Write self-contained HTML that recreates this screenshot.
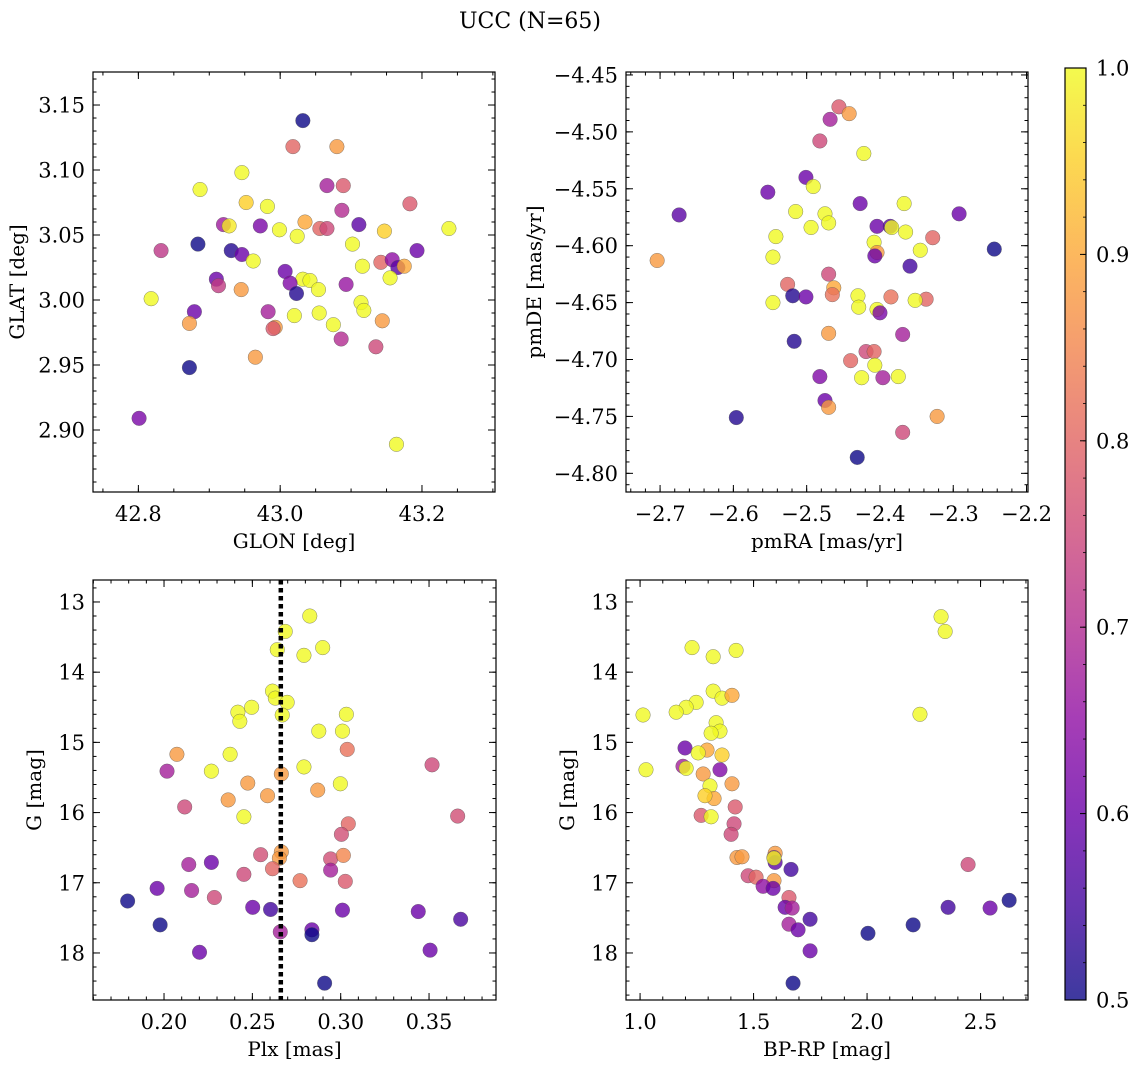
<!DOCTYPE html>
<html><head><meta charset="utf-8"><style>
html,body{margin:0;padding:0;background:#fff;}
svg{display:block;font-family:"DejaVu Serif","Liberation Serif",serif;}
</style></head><body>
<svg id="fig" width="1136" height="1068" viewBox="0 0 1136 1068" xmlns="http://www.w3.org/2000/svg">
<text x="530" y="28" text-anchor="middle" font-size="22">UCC (N=65)</text>
</svg>
<script>
// ---- Panel 1: GLON vs GLAT ----
const p1Glon=[43.032,43.018,43.080,42.946,42.887,43.066,43.089,43.183,42.952,42.982,43.087,43.035,42.920,42.928,42.972,43.111,42.832,42.884,42.931,42.946,42.999,43.024,43.056,43.066,43.102,43.147,43.238,43.193,42.962,43.007,43.032,43.042,43.116,43.142,43.158,43.166,43.175,43.155,42.910,42.913,43.014,43.093,43.023,42.945,43.054,42.818,43.114,42.983,43.020,43.055,43.118,42.879,42.872,42.993,42.990,43.075,43.144,43.086,43.135,42.965,42.872,42.801,43.164];
const p1Glat=[3.138,3.118,3.118,3.098,3.085,3.088,3.088,3.074,3.075,3.072,3.069,3.060,3.058,3.057,3.057,3.058,3.038,3.043,3.038,3.035,3.054,3.049,3.055,3.055,3.043,3.053,3.055,3.038,3.030,3.022,3.016,3.015,3.026,3.029,3.031,3.025,3.026,3.017,3.016,3.011,3.013,3.012,3.005,3.008,3.008,3.001,2.998,2.991,2.988,2.990,2.992,2.991,2.982,2.979,2.978,2.981,2.984,2.970,2.964,2.956,2.948,2.909,2.889];
const p1Prob=[0.5,0.8,0.88,1,1,0.68,0.78,0.78,0.95,1,0.7,0.9,0.67,0.98,0.62,0.58,0.72,0.5,0.52,0.6,1,1,0.8,0.75,1,0.95,1,0.6,1,0.6,1,1,1,0.8,0.65,0.58,0.9,1,0.6,0.73,0.63,0.66,0.52,0.88,1,1,1,0.68,1,1,1,0.6,0.88,0.88,0.78,1,0.88,0.7,0.75,0.88,0.5,0.62,1];
// ---- Panel 2: pmRA vs pmDE ----
const p2PmRA=[-2.456,-2.442,-2.468,-2.482,-2.422,-2.553,-2.501,-2.491,-2.674,-2.515,-2.475,-2.427,-2.367,-2.292,-2.470,-2.404,-2.386,-2.384,-2.365,-2.542,-2.494,-2.328,-2.408,-2.345,-2.244,-2.704,-2.546,-2.404,-2.407,-2.359,-2.470,-2.463,-2.526,-2.465,-2.519,-2.430,-2.385,-2.501,-2.337,-2.352,-2.546,-2.429,-2.404,-2.400,-2.470,-2.369,-2.517,-2.419,-2.408,-2.440,-2.407,-2.396,-2.375,-2.425,-2.482,-2.475,-2.470,-2.322,-2.596,-2.369,-2.431];
const p2PmDE=[-4.478,-4.484,-4.489,-4.508,-4.519,-4.553,-4.540,-4.548,-4.573,-4.570,-4.572,-4.563,-4.563,-4.572,-4.580,-4.583,-4.583,-4.584,-4.588,-4.592,-4.584,-4.593,-4.597,-4.604,-4.603,-4.613,-4.610,-4.606,-4.609,-4.618,-4.625,-4.637,-4.634,-4.643,-4.644,-4.644,-4.645,-4.645,-4.647,-4.648,-4.650,-4.654,-4.656,-4.659,-4.677,-4.678,-4.684,-4.693,-4.693,-4.701,-4.705,-4.716,-4.715,-4.716,-4.715,-4.736,-4.742,-4.750,-4.751,-4.764,-4.786];
const p2Prob=[0.78,0.88,0.68,0.75,1,0.6,0.6,1,0.58,1,1,0.6,1,0.6,1,0.6,0.58,1,1,1,1,0.8,1,1,0.5,0.88,1,0.88,0.6,0.55,0.75,0.9,0.8,0.82,0.52,1,0.82,0.6,0.8,1,1,1,1,0.62,0.88,0.68,0.52,0.75,0.8,0.8,1,0.68,1,1,0.63,0.6,0.88,0.88,0.52,0.75,0.5];
// ---- Panel 3: Plx vs G ----
const p3Plx=[0.2825,0.2686,0.2641,0.2792,0.2898,0.2614,0.2630,0.2697,0.2496,0.2418,0.3032,0.2429,0.2669,0.2876,0.3010,0.2073,0.2374,0.2268,0.2017,0.3037,0.3517,0.2792,0.2474,0.2870,0.2998,0.2664,0.2586,0.2363,0.2117,0.2452,0.3662,0.3043,0.3004,0.2664,0.2547,0.2943,0.3015,0.2653,0.2140,0.2268,0.2614,0.2452,0.2770,0.2943,0.3026,0.2156,0.2285,0.1961,0.1794,0.2502,0.2603,0.3010,0.3439,0.3679,0.1978,0.2658,0.2837,0.2837,0.2201,0.3506,0.2909];
const p3G=[13.20,13.42,13.68,13.76,13.65,14.27,14.37,14.43,14.50,14.57,14.60,14.70,14.61,14.84,14.84,15.17,15.17,15.41,15.41,15.10,15.32,15.35,15.58,15.68,15.59,15.45,15.76,15.82,15.92,16.06,16.05,16.16,16.31,16.56,16.60,16.66,16.61,16.65,16.74,16.71,16.80,16.88,16.97,16.82,16.98,17.11,17.21,17.08,17.26,17.35,17.38,17.39,17.41,17.52,17.60,17.70,17.67,17.74,17.99,17.96,18.43];
const p3Prob=[1,1,1,1,1,1,1,1,1,1,1,1,1,1,1,0.88,1,1,0.68,0.82,0.75,1,0.88,0.88,1,0.88,0.88,0.88,0.75,1,0.76,0.8,0.76,0.88,0.76,0.76,0.85,0.88,0.68,0.6,0.8,0.75,0.82,0.68,0.78,0.68,0.75,0.6,0.5,0.6,0.55,0.6,0.6,0.56,0.5,0.68,0.6,0.5,0.6,0.6,0.5];
const p3PlxLine=0.2661;
// ---- Panel 4: BP-RP vs G ----
const p4Color=[2.326,2.344,1.229,1.322,1.423,1.322,1.247,1.203,1.159,1.013,1.361,1.405,2.233,1.335,1.352,1.313,1.026,1.198,1.295,1.361,1.256,1.189,1.203,1.352,1.278,1.405,1.308,1.326,1.286,1.419,1.269,1.313,1.414,1.401,1.427,1.449,1.595,1.590,1.595,1.590,1.665,1.476,1.511,1.590,1.542,1.586,2.445,1.656,1.639,1.670,2.357,2.542,2.626,1.749,1.656,1.696,2.203,2.004,1.749,1.674];
const p4G=[13.21,13.42,13.65,13.78,13.69,14.27,14.43,14.50,14.57,14.61,14.37,14.33,14.60,14.72,14.84,14.87,15.39,15.08,15.11,15.18,15.15,15.34,15.37,15.39,15.45,15.59,15.62,15.80,15.76,15.92,16.04,16.06,16.16,16.31,16.64,16.63,16.58,16.64,16.71,16.65,16.81,16.90,16.92,16.97,17.05,17.08,16.74,17.21,17.35,17.36,17.35,17.36,17.25,17.52,17.59,17.67,17.60,17.72,17.97,18.43];
const p4Prob=[1,1,1,1,1,1,1,1,1,1,1,0.9,1,1,1,1,1,0.6,0.9,0.95,1,0.68,1,0.63,0.88,0.88,1,0.9,0.95,0.78,0.78,1,0.75,0.75,0.88,0.88,0.88,0.68,0.58,1,0.55,0.75,0.8,0.88,0.65,0.6,0.75,0.78,0.6,0.68,0.55,0.6,0.5,0.55,0.68,0.6,0.5,0.5,0.6,0.5];
// ---- Colorbar ----
const cbTicks=[0.5,0.6,0.7,0.8,0.9,1.0];

const NS="http://www.w3.org/2000/svg";
const svg=document.getElementById('fig');
function mk(tag,attrs,parent){const e=document.createElementNS(NS,tag);for(const k in attrs)e.setAttribute(k,attrs[k]);(parent||svg).appendChild(e);return e;}
const plasma=[[13,8,135],[65,4,157],[106,0,168],[143,13,164],[177,42,144],[204,71,120],[225,100,98],[242,132,75],[252,166,54],[252,206,37],[240,249,33]];
function cmap(v){let t=(v-0.5)/0.5;t=Math.max(0,Math.min(1,t));const f=t*10,i=Math.min(9,Math.floor(f)),r=f-i;const a=plasma[i],b=plasma[i+1];return 'rgb('+a.map((c,k)=>Math.round(c+(b[k]-c)*r)).join(',')+')';}

function panel(cfg){
  const {name,L,T,R,B,xmin,xmax,ymin,ymax,invertY,xs,ys,ps,xMaj,xMin,yMaj,yMin,xFmt,yFmt,xlabel,ylabel,ylabX}=cfg;
  const sx=v=>L+(v-xmin)/(xmax-xmin)*(R-L);
  const sy=v=>invertY? T+(v-ymin)/(ymax-ymin)*(B-T) : B-(v-ymin)/(ymax-ymin)*(B-T);
  const g=mk('g',{});
  
  
  const pg=mk('g',{},g);
  
  
  for(let i=0;i<xs.length;i++){
    const c=mk('circle',{cx:sx(xs[i]),cy:sy(ys[i]),r:7.3,fill:cmap(ps[i]),'fill-opacity':0.8,stroke:'#555','stroke-width':0.5,'stroke-opacity':0.7},pg);
    
    
  }
  if(cfg.vline!==undefined){
    const l=mk('line',{x1:sx(cfg.vline),x2:sx(cfg.vline),y1:T,y2:B,stroke:'#000','stroke-width':4.5,'stroke-dasharray':'4.5 3.5'},g);
    
    
  }
  const fr=mk('rect',{x:L,y:T,width:R-L,height:B-T,fill:'none',stroke:'#000','stroke-width':1.2},g);
  
  
  const tg=mk('g',{stroke:'#000','stroke-width':1},g);
  const eps=1e-9;
  function ticks(step){const out=[];const s=Math.ceil((xmin-eps)/step);for(let k=s;k*step<=xmax+eps;k++)out.push(k*step);return out;}
  function yticksList(step){const out=[];const s=Math.ceil((ymin-eps)/step);for(let k=s;k*step<=ymax+eps;k++)out.push(k*step);return out;}
  ticks(xMin).forEach(v=>{const x=sx(v);mk('line',{x1:x,x2:x,y1:B,y2:B-3.5},tg);mk('line',{x1:x,x2:x,y1:T,y2:T+3.5},tg);});
  ticks(xMaj).forEach(v=>{const x=sx(v);mk('line',{x1:x,x2:x,y1:B,y2:B-7},tg);mk('line',{x1:x,x2:x,y1:T,y2:T+7},tg);
    const t=mk('text',{x:x,y:B+29,'text-anchor':'middle','font-size':21,fill:'#000',stroke:'none'},g);t.textContent=xFmt(v);
    
    });
  yticksList(yMin).forEach(v=>{const y=sy(v);mk('line',{x1:L,x2:L+3.5,y1:y,y2:y},tg);mk('line',{x1:R,x2:R-3.5,y1:y,y2:y},tg);});
  yticksList(yMaj).forEach(v=>{const y=sy(v);mk('line',{x1:L,x2:L+7,y1:y,y2:y},tg);mk('line',{x1:R,x2:R-7,y1:y,y2:y},tg);
    const t=mk('text',{x:L-8,y:y+7.5,'text-anchor':'end','font-size':21,fill:'#000'},g);t.textContent=yFmt(v);
    
    });
  const xl=mk('text',{x:(L+R)/2,y:B+56,'text-anchor':'middle','font-size':20},g);xl.textContent=xlabel;
  
  
  const cy=(T+B)/2;
  const yl=mk('text',{x:ylabX,y:cy,'text-anchor':'middle','font-size':20,transform:'rotate(-90 '+ylabX+' '+cy+')'},g);yl.textContent=ylabel;
  
  
}
const minus=s=>s.replace('-','\u2212');
panel({name:'glon-glat',L:93,T:72,R:495,B:492,xmin:42.736,xmax:43.303,ymin:2.8523,ymax:3.1754,xs:p1Glon,ys:p1Glat,ps:p1Prob,xMaj:0.2,xMin:0.05,yMaj:0.05,yMin:0.01,xFmt:v=>v.toFixed(1),yFmt:v=>v.toFixed(2),xlabel:'GLON [deg]',ylabel:'GLAT [deg]',ylabX:24});
panel({name:'pm',L:626,T:72,R:1028,B:492,xmin:-2.7465,xmax:-2.198,ymin:-4.8164,ymax:-4.4474,xs:p2PmRA,ys:p2PmDE,ps:p2Prob,xMaj:0.1,xMin:0.02,yMaj:0.05,yMin:0.01,xFmt:v=>minus(v.toFixed(1)),yFmt:v=>minus(v.toFixed(2)),xlabel:'pmRA [mas/yr]',ylabel:'pmDE [mas/yr]',ylabX:541});
panel({name:'plx-g',L:93,T:580,R:496,B:1000,xmin:0.1598,xmax:0.3879,ymin:12.687,ymax:18.67,invertY:true,xs:p3Plx,ys:p3G,ps:p3Prob,xMaj:0.05,xMin:0.01,yMaj:1,yMin:0.2,xFmt:v=>v.toFixed(2),yFmt:v=>v.toFixed(0),xlabel:'Plx [mas]',ylabel:'G [mag]',ylabX:41,vline:p3PlxLine});
panel({name:'cmd',L:626,T:580,R:1028,B:1000,xmin:0.938,xmax:2.709,ymin:12.687,ymax:18.67,invertY:true,xs:p4Color,ys:p4G,ps:p4Prob,xMaj:0.5,xMin:0.1,yMaj:1,yMin:0.2,xFmt:v=>v.toFixed(1),yFmt:v=>v.toFixed(0),xlabel:'BP-RP [mag]',ylabel:'G [mag]',ylabX:574});

const cbL=1065,cbR=1086,cbT=68,cbB=1000;
const defs=mk('defs',{});
const gr=mk('linearGradient',{id:'cbg',x1:0,y1:1,x2:0,y2:0},defs);
for(let i=0;i<=10;i++){const v=0.5+i*0.05;mk('stop',{offset:i/10,'stop-color':cmap(v),'stop-opacity':0.8},gr);}
const cb=mk('rect',{x:cbL,y:cbT,width:cbR-cbL,height:cbB-cbT,fill:'url(#cbg)',stroke:'#000','stroke-width':1.2});


const csy=v=>cbB-(v-0.5)/0.5*(cbB-cbT);
cbTicks.forEach(v=>{const y=csy(v);mk('line',{x1:cbR,x2:cbR-6,y1:y,y2:y,stroke:'#000','stroke-width':1});
  const t=mk('text',{x:cbR+10,y:y+7.5,'font-size':21});t.textContent=v.toFixed(1);
  
  });
for(let v=0.52;v<1;v+=0.02){const y=csy(v);mk('line',{x1:cbR,x2:cbR-3,y1:y,y2:y,stroke:'#000','stroke-width':0.8});}
</script>
</body></html>
